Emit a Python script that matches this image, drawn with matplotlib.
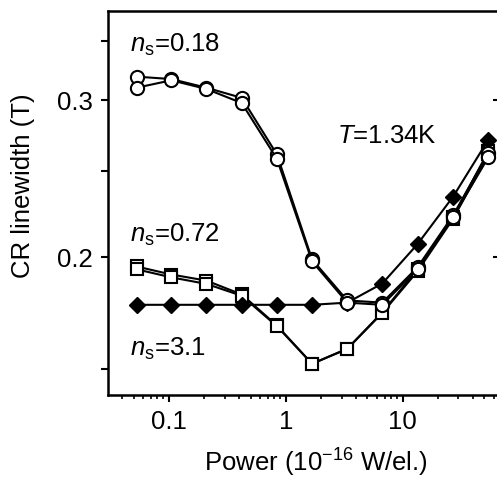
import matplotlib
matplotlib.use("Agg")
import matplotlib.pyplot as plt
from matplotlib.ticker import NullFormatter, FixedLocator, FixedFormatter

plt.rcParams['font.family'] = ['Liberation Sans', 'DejaVu Sans']
plt.rcParams['mathtext.fontset'] = 'custom'
plt.rcParams['mathtext.rm'] = 'Liberation Sans'
plt.rcParams['mathtext.it'] = 'Liberation Sans:italic'

# power (10^-16 W/el.)
power = [0.053, 0.105, 0.21, 0.42, 0.84, 1.68, 3.36, 6.7, 13.4, 27, 54]

# ns = 0.18, two sweeps
circ_a = [0.319, 0.317, 0.310, 0.302, 0.261, 0.199, 0.179, 0.178, 0.195, 0.223, 0.262]
circ_b = [0.310, 0.316, 0.309, 0.298, 0.258, 0.198, 0.178, 0.177, 0.194, 0.222, 0.259]

# ns = 0.72, two sweeps
sq_a = [0.1954, 0.1914, 0.1884, 0.1818, 0.1678, 0.152, 0.158, 0.1736, 0.194, 0.222, 0.263]
sq_b = [0.1940, 0.1900, 0.1868, 0.1812, 0.1675, 0.152, 0.158, 0.1733, 0.193, 0.221, 0.261]

# ns = 3.1
diam = [0.177, 0.177, 0.177, 0.177, 0.177, 0.177, 0.178, 0.187, 0.207, 0.234, 0.271]

fs = 18.5

fig = plt.figure(figsize=(4.97, 4.83), dpi=100)
ax = fig.add_axes([0.217, 0.182, 0.789, 0.795])

ax.plot(power, sq_a, '-s', color='black', lw=1.5, ms=9, mfc='white', mew=1.5)
ax.plot(power, sq_b, '-s', color='black', lw=1.5, ms=9, mfc='white', mew=1.5)
ax.plot(power, diam, '-D', color='black', lw=1.5, ms=8.5, mfc='black', mew=1.0)
ax.plot(power, circ_a, '-o', color='black', lw=1.5, ms=9.5, mfc='white', mew=1.5)
ax.plot(power, circ_b, '-o', color='black', lw=1.5, ms=9.5, mfc='white', mew=1.5)

ax.set_xscale('log')
ax.set_yscale('log')
ax.set_xlim(0.0301, 68)
ax.set_ylim(0.1402, 0.3778)

ax.yaxis.set_major_locator(FixedLocator([0.15, 0.2, 0.25, 0.3, 0.35]))
ax.yaxis.set_major_formatter(FixedFormatter(['', '0.2', '', '0.3', '']))
ax.yaxis.set_minor_locator(FixedLocator([]))
ax.yaxis.set_minor_formatter(NullFormatter())
ax.xaxis.set_major_locator(FixedLocator([0.1, 1, 10]))
ax.xaxis.set_major_formatter(FixedFormatter(['0.1', '1', '10']))

ax.tick_params(which='major', direction='out', length=5, width=1.5, labelsize=fs)
ax.tick_params(which='minor', direction='out', length=3, width=1.2)
ax.tick_params(axis='x', pad=6)
ax.tick_params(axis='y', pad=6)

for s in ax.spines.values():
    s.set_linewidth(1.8)

right = ax.secondary_yaxis('right')
right.set_yticks([0.2, 0.3])
right.set_yticklabels([])
right.yaxis.set_minor_locator(FixedLocator([]))
right.tick_params(direction='in', length=5, width=1.5)

ax.set_xlabel('Power (10$^{-16}$ W/el.)', fontsize=fs)
ax.set_ylabel('CR linewidth (T)', fontsize=fs)
ax.xaxis.set_label_coords(0.53, -0.135)
ax.yaxis.set_label_coords(-0.186, 0.545)

ax.text(0.047, 0.340, r'$n_{\rm s}$=0.18', fontsize=fs)
ax.text(0.047, 0.208, r'$n_{\rm s}$=0.72', fontsize=fs)
ax.text(0.047, 0.155, r'$n_{\rm s}$=3.1', fontsize=fs)
ax.text(2.73, 0.269, r'$T$=1.34K', fontsize=fs)

fig.savefig('out.png', dpi=100)
